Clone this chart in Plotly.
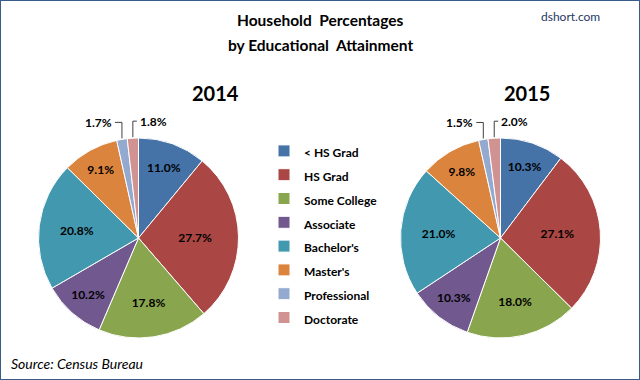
import math
import plotly.graph_objects as go

categories = ["< HS Grad", "HS Grad", "Some College", "Associate", "Bachelor's",
              "Master's", "Professional", "Doctorate"]
values_2014 = [11.0, 27.7, 17.8, 10.2, 20.8, 9.1, 1.7, 1.8]
values_2015 = [10.3, 27.1, 18.0, 10.3, 21.0, 9.8, 1.5, 2.0]
years = ["2014", "2015"]
title_lines = ["Household\u00a0 Percentages", "by Educational\u00a0 Attainment"]
colors = ["#4572A7", "#AA4643", "#89A54E", "#71588F", "#4198AF", "#DB843D", "#93A9CF", "#D19392"]

FONT = "Lato"
W, H = 640, 380
R = 100
CENTERS = [(138.5, 238), (500.5, 238)]


def dom(cx, cy, r):
    return dict(x=[(cx - r) / W, (cx + r) / W], y=[1 - (cy + r) / H, 1 - (cy - r) / H])


def px(x, y):
    return x / W, 1 - y / H


legend_labels = [f"<span style='font-size:12px'>{c}</span>" for c in categories]

fig = go.Figure()
annotations = []
shapes = []
for k, vals in enumerate([values_2014, values_2015]):
    cx, cy = CENTERS[k]
    small = [v < 3 for v in vals]
    fig.add_trace(go.Pie(
        labels=legend_labels, values=vals, sort=False, direction="clockwise", rotation=0,
        marker=dict(colors=colors, line=dict(color="white", width=1)),
        texttemplate="%{value:.1f}%",
        textposition=["none" if s else "inside" for s in small],
        insidetextorientation="horizontal",
        textfont=dict(family=FONT, size=12, color="black", weight="bold"),
        domain=dom(cx, cy, R), showlegend=(k == 0), hoverinfo="skip",
    ))
    # leader-line labels for the thin slices, placed from the data's own angles
    total = sum(vals)
    cum = 0.0
    n_small = 0
    for i, v in enumerate(vals):
        mid = (cum + v / 2) / total * 2 * math.pi
        cum += v
        if not small[i]:
            continue
        ex, ey = cx + R * math.sin(mid), cy - R * math.cos(mid)
        left_side = n_small == 0
        n_small += 1
        ly = ey - 17
        sx = ex - 7 if left_side else ex + 4
        shapes.append(dict(type="path", xref="paper", yref="paper",
                           path="M {} {} L {} {} L {} {}".format(
                               *px(sx, ly), *px(ex, ly), *px(ex, ey - 1)),
                           line=dict(color="#404040", width=1)))
        tx = sx - 1 if left_side else sx + 1
        annotations.append(dict(text=f"{v:.1f}%", x=tx / W, y=1 - ly / H,
                                xref="paper", yref="paper", showarrow=False,
                                xanchor="right" if left_side else "left", yanchor="middle",
                                font=dict(family=FONT, size=12, color="black", weight="bold")))

for line, y in zip(title_lines, [20, 45]):
    annotations.append(dict(text=line, x=0.5, y=1 - y / H, xref="paper", yref="paper",
                            showarrow=False, xanchor="center", yanchor="middle",
                            font=dict(family=FONT, size=15.5, color="black", weight="bold")))

annotations += [
    dict(text=years[0], x=190 / W, y=1 - 93 / H, xref="paper", yref="paper", showarrow=False,
         yanchor="middle", font=dict(family=FONT, size=20, color="black", weight="bold")),
    dict(text=years[1], x=552 / W, y=1 - 93 / H, xref="paper", yref="paper", showarrow=False,
         yanchor="middle", font=dict(family=FONT, size=20, color="black", weight="bold")),
    dict(text="dshort.com", x=602 / W, y=1 - 16 / H, xref="paper", yref="paper", showarrow=False,
         yanchor="middle", font=dict(family=FONT, size=12, color="#1F3864")),
    dict(text="<i>Source: Census Bureau</i>", x=9 / W, y=1 - 363 / H, xref="paper", yref="paper",
         xanchor="left", yanchor="middle", showarrow=False,
         font=dict(family=FONT, size=14, color="black")),
]

shapes.append(dict(type="rect", xref="paper", yref="paper", x0=0, y0=0, x1=1, y1=1,
                   line=dict(color="#385D8A", width=2)))

fig.update_layout(
    width=W, height=H, margin=dict(l=0, r=0, t=0, b=0),
    paper_bgcolor="white", plot_bgcolor="white",
    legend=dict(x=264 / W, xanchor="left", y=1 - 134 / H, yanchor="top",
                font=dict(family=FONT, size=16, color="black", weight="bold"),
                bgcolor="rgba(0,0,0,0)", itemclick=False),
    annotations=annotations,
    shapes=shapes,
)

fig.write_html("out.html", config={"displayModeBar": False},
               post_script="document.body.style.margin='0';")
